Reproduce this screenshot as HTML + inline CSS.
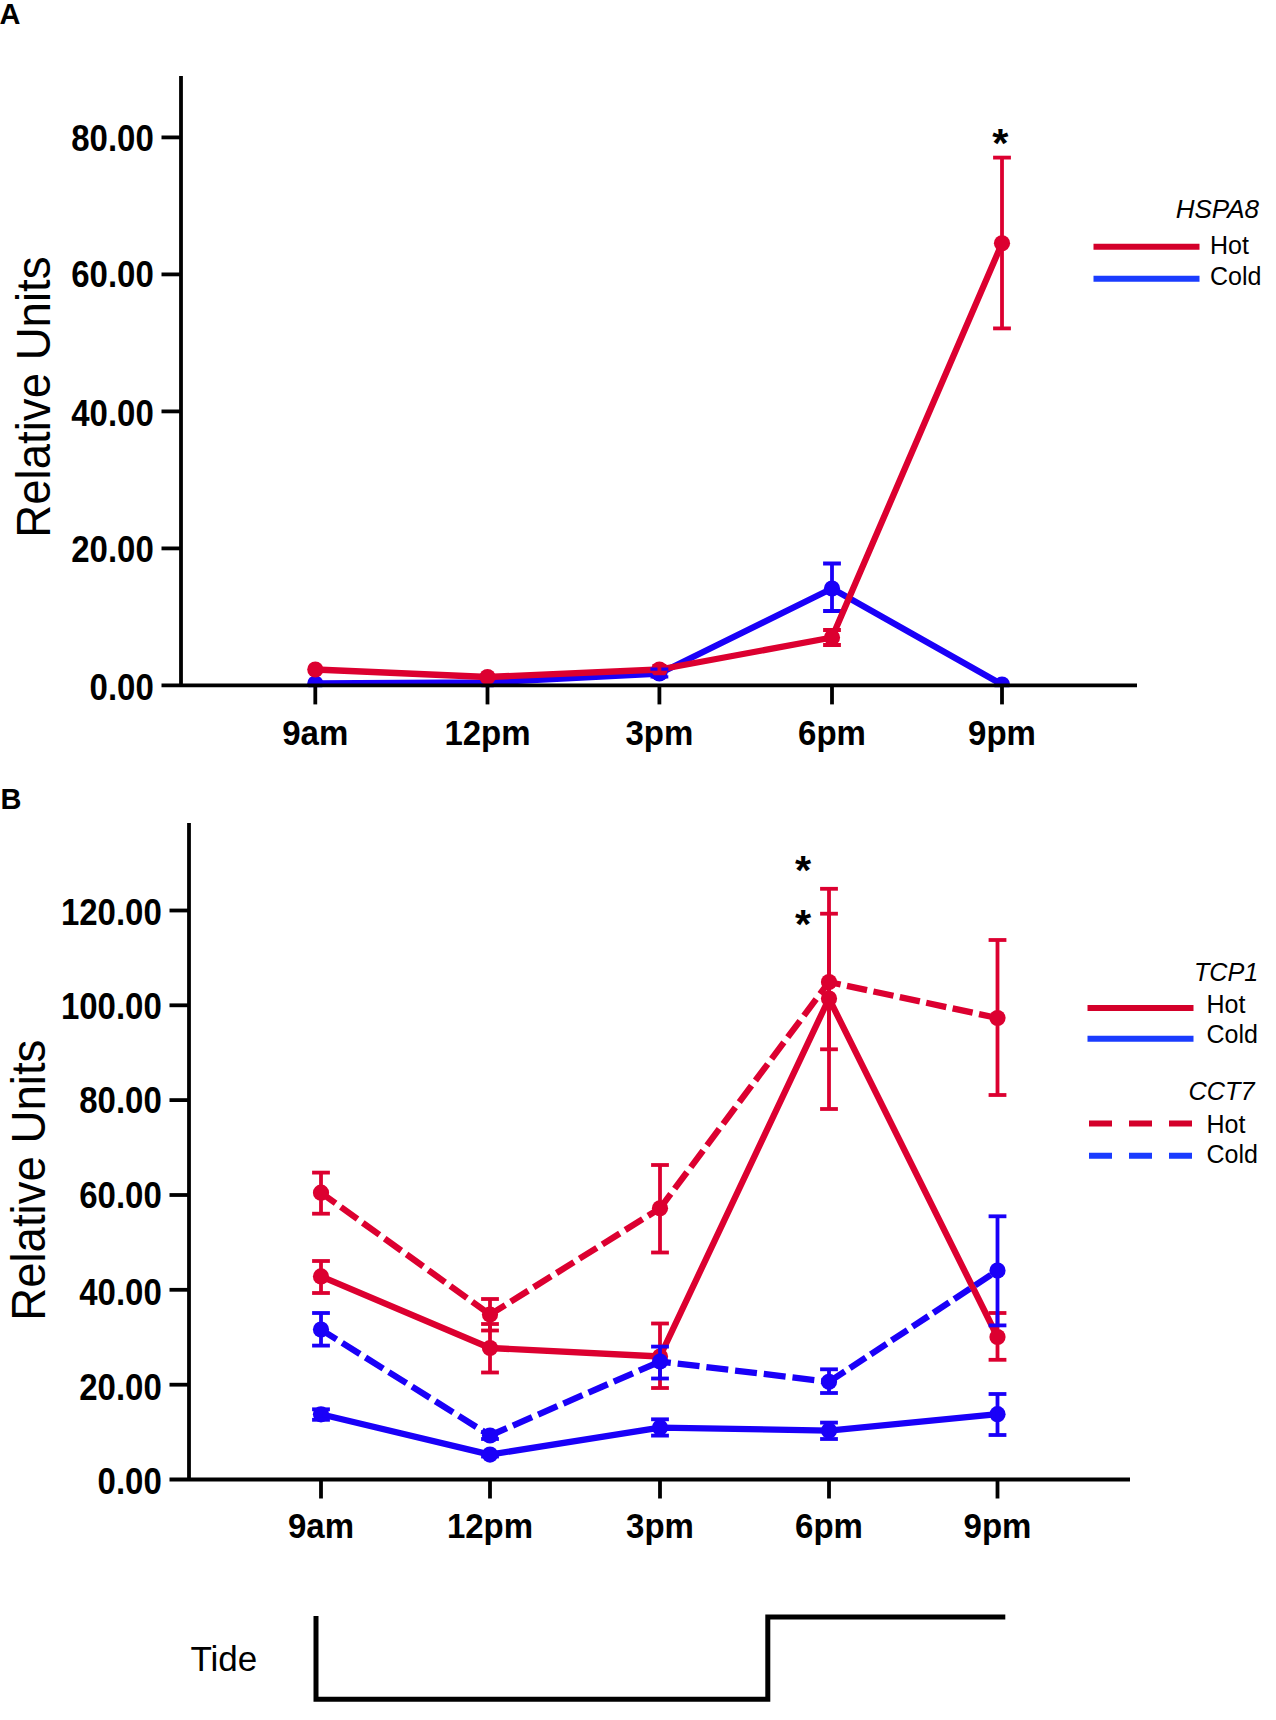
<!DOCTYPE html>
<html><head><meta charset="utf-8"><title>Figure</title>
<style>
html,body{margin:0;padding:0;background:#fff;}
body{width:1276px;height:1720px;overflow:hidden;font-family:"Liberation Sans",sans-serif;}
svg{display:block;font-family:"Liberation Sans",sans-serif;}
text{fill:#000;}
</style></head><body>
<svg width="1276" height="1720" viewBox="0 0 1276 1720">
<rect width="1276" height="1720" fill="#fff"/>
<text x="-0.5" y="23.8" font-size="29" font-weight="bold" font-style="normal" text-anchor="start" >A</text>
<clipPath id="clipA"><rect x="0" y="0" width="1276" height="687.2"/></clipPath><g clip-path="url(#clipA)">
<line x1="832" y1="563.5" x2="832" y2="611" stroke="#1a00f8" stroke-width="3.8" />
<line x1="823.1" y1="563.5" x2="840.9" y2="563.5" stroke="#1a00f8" stroke-width="3.8" />
<line x1="823.1" y1="611" x2="840.9" y2="611" stroke="#1a00f8" stroke-width="3.8" />
<line x1="832" y1="630" x2="832" y2="645" stroke="#dc0030" stroke-width="3.8" />
<line x1="823.1" y1="630" x2="840.9" y2="630" stroke="#dc0030" stroke-width="3.8" />
<line x1="823.1" y1="645" x2="840.9" y2="645" stroke="#dc0030" stroke-width="3.8" />
<line x1="1002" y1="157.6" x2="1002" y2="328.4" stroke="#dc0030" stroke-width="3.8" />
<line x1="993.1" y1="157.6" x2="1010.9" y2="157.6" stroke="#dc0030" stroke-width="3.8" />
<line x1="993.1" y1="328.4" x2="1010.9" y2="328.4" stroke="#dc0030" stroke-width="3.8" />
<line x1="659.4" y1="666" x2="659.4" y2="677" stroke="#dc0030" stroke-width="3.8" />
<line x1="652.4" y1="666" x2="666.4" y2="666" stroke="#dc0030" stroke-width="3.8" />
<line x1="652.4" y1="677" x2="666.4" y2="677" stroke="#dc0030" stroke-width="3.8" />
<path d="M315.3 683.5 L487.5 682.5 L659.4 673.5 L832 588.5 L1002 684.5" fill="none" stroke="#1a00f8" stroke-width="6.3" stroke-linejoin="round"/>
<circle cx="315.3" cy="683.5" r="8.1" fill="#1a00f8"/>
<circle cx="487.5" cy="682.5" r="8.1" fill="#1a00f8"/>
<circle cx="659.4" cy="673.5" r="8.1" fill="#1a00f8"/>
<circle cx="832" cy="588.5" r="8.1" fill="#1a00f8"/>
<circle cx="1002" cy="684.5" r="8.1" fill="#1a00f8"/>
<path d="M315.3 669.5 L487.5 677 L659.4 669.5 L832 637.5 L1002 243.3" fill="none" stroke="#dc0030" stroke-width="6.3" stroke-linejoin="round"/>
<circle cx="315.3" cy="669.5" r="8.1" fill="#dc0030"/>
<circle cx="487.5" cy="677" r="8.1" fill="#dc0030"/>
<circle cx="659.4" cy="669.5" r="8.1" fill="#dc0030"/>
<circle cx="832" cy="637.5" r="8.1" fill="#dc0030"/>
<circle cx="1002" cy="243.3" r="8.1" fill="#dc0030"/>
<line x1="650.5" y1="669.1" x2="668.3" y2="669.1" stroke="#1a00f8" stroke-width="3.2" />
<line x1="650.5" y1="676.8" x2="668.3" y2="676.8" stroke="#1a00f8" stroke-width="3.2" />
<line x1="659.4" y1="663" x2="659.4" y2="675" stroke="#dc0030" stroke-width="3.8" />
</g>
<line x1="181" y1="76" x2="181" y2="685.4" stroke="#000" stroke-width="3.8" />
<line x1="161.5" y1="685.4" x2="1137" y2="685.4" stroke="#000" stroke-width="3.8" />
<text transform="translate(153.8,699.8) scale(1,1.1)" font-size="33" font-weight="bold" font-style="normal" text-anchor="end" >0.00</text>
<line x1="161.5" y1="548.4" x2="181" y2="548.4" stroke="#000" stroke-width="3.8" />
<text transform="translate(153.8,562.4) scale(1,1.1)" font-size="33" font-weight="bold" font-style="normal" text-anchor="end" >20.00</text>
<line x1="161.5" y1="411.4" x2="181" y2="411.4" stroke="#000" stroke-width="3.8" />
<text transform="translate(153.8,425.7) scale(1,1.1)" font-size="33" font-weight="bold" font-style="normal" text-anchor="end" >40.00</text>
<line x1="161.5" y1="274.4" x2="181" y2="274.4" stroke="#000" stroke-width="3.8" />
<text transform="translate(153.8,287.4) scale(1,1.1)" font-size="33" font-weight="bold" font-style="normal" text-anchor="end" >60.00</text>
<line x1="161.5" y1="137.4" x2="181" y2="137.4" stroke="#000" stroke-width="3.8" />
<text transform="translate(153.8,151.4) scale(1,1.1)" font-size="33" font-weight="bold" font-style="normal" text-anchor="end" >80.00</text>
<line x1="315.3" y1="685.4" x2="315.3" y2="704.4" stroke="#000" stroke-width="3.8" />
<text transform="translate(315.3,745) scale(1,1.06)" font-size="33" font-weight="bold" font-style="normal" text-anchor="middle" >9am</text>
<line x1="487.5" y1="685.4" x2="487.5" y2="704.4" stroke="#000" stroke-width="3.8" />
<text transform="translate(487.5,745) scale(1,1.06)" font-size="33" font-weight="bold" font-style="normal" text-anchor="middle" >12pm</text>
<line x1="659.4" y1="685.4" x2="659.4" y2="704.4" stroke="#000" stroke-width="3.8" />
<text transform="translate(659.4,745) scale(1,1.06)" font-size="33" font-weight="bold" font-style="normal" text-anchor="middle" >3pm</text>
<line x1="832" y1="685.4" x2="832" y2="704.4" stroke="#000" stroke-width="3.8" />
<text transform="translate(832,745) scale(1,1.06)" font-size="33" font-weight="bold" font-style="normal" text-anchor="middle" >6pm</text>
<line x1="1002" y1="685.4" x2="1002" y2="704.4" stroke="#000" stroke-width="3.8" />
<text transform="translate(1002,745) scale(1,1.06)" font-size="33" font-weight="bold" font-style="normal" text-anchor="middle" >9pm</text>
<text transform="translate(49.6,397.1) rotate(-90) scale(1.013,1.05)" font-size="45" text-anchor="middle">Relative Units</text>
<text x="1000.4" y="156.7" font-size="41.5" font-weight="bold" font-style="normal" text-anchor="middle" >*</text>
<text x="1259" y="217.8" font-size="26" font-weight="normal" font-style="italic" text-anchor="end" >HSPA8</text>
<line x1="1093.5" y1="246.7" x2="1199.5" y2="246.7" stroke="#d4002a" stroke-width="5.9" />
<line x1="1093.5" y1="278.8" x2="1199.5" y2="278.8" stroke="#1a3cff" stroke-width="5.9" />
<text x="1210" y="254" font-size="25" font-weight="normal" font-style="normal" text-anchor="start" >Hot</text>
<text x="1210" y="285" font-size="25" font-weight="normal" font-style="normal" text-anchor="start" >Cold</text>
<text x="0.5" y="808.6" font-size="29" font-weight="bold" font-style="normal" text-anchor="start" >B</text>
<line x1="189" y1="823" x2="189" y2="1479.5" stroke="#000" stroke-width="3.8" />
<line x1="169.5" y1="1479.5" x2="1130" y2="1479.5" stroke="#000" stroke-width="3.8" />
<text transform="translate(161.8,1494.0) scale(1,1.1)" font-size="33" font-weight="bold" font-style="normal" text-anchor="end" >0.00</text>
<line x1="169.5" y1="1384.7" x2="189" y2="1384.7" stroke="#000" stroke-width="3.8" />
<text transform="translate(161.8,1399.7) scale(1,1.1)" font-size="33" font-weight="bold" font-style="normal" text-anchor="end" >20.00</text>
<line x1="169.5" y1="1289.8" x2="189" y2="1289.8" stroke="#000" stroke-width="3.8" />
<text transform="translate(161.8,1304.8) scale(1,1.1)" font-size="33" font-weight="bold" font-style="normal" text-anchor="end" >40.00</text>
<line x1="169.5" y1="1195.0" x2="189" y2="1195.0" stroke="#000" stroke-width="3.8" />
<text transform="translate(161.8,1208.0) scale(1,1.1)" font-size="33" font-weight="bold" font-style="normal" text-anchor="end" >60.00</text>
<line x1="169.5" y1="1100.1" x2="189" y2="1100.1" stroke="#000" stroke-width="3.8" />
<text transform="translate(161.8,1113.3) scale(1,1.1)" font-size="33" font-weight="bold" font-style="normal" text-anchor="end" >80.00</text>
<line x1="169.5" y1="1005.3" x2="189" y2="1005.3" stroke="#000" stroke-width="3.8" />
<text transform="translate(161.8,1019.0999999999999) scale(1,1.1)" font-size="33" font-weight="bold" font-style="normal" text-anchor="end" >100.00</text>
<line x1="169.5" y1="910.5" x2="189" y2="910.5" stroke="#000" stroke-width="3.8" />
<text transform="translate(161.8,925.0) scale(1,1.1)" font-size="33" font-weight="bold" font-style="normal" text-anchor="end" >120.00</text>
<line x1="321" y1="1479.5" x2="321" y2="1498.5" stroke="#000" stroke-width="3.8" />
<text transform="translate(321,1538) scale(1,1.06)" font-size="33" font-weight="bold" font-style="normal" text-anchor="middle" >9am</text>
<line x1="490" y1="1479.5" x2="490" y2="1498.5" stroke="#000" stroke-width="3.8" />
<text transform="translate(490,1538) scale(1,1.06)" font-size="33" font-weight="bold" font-style="normal" text-anchor="middle" >12pm</text>
<line x1="660" y1="1479.5" x2="660" y2="1498.5" stroke="#000" stroke-width="3.8" />
<text transform="translate(660,1538) scale(1,1.06)" font-size="33" font-weight="bold" font-style="normal" text-anchor="middle" >3pm</text>
<line x1="829" y1="1479.5" x2="829" y2="1498.5" stroke="#000" stroke-width="3.8" />
<text transform="translate(829,1538) scale(1,1.06)" font-size="33" font-weight="bold" font-style="normal" text-anchor="middle" >6pm</text>
<line x1="997.5" y1="1479.5" x2="997.5" y2="1498.5" stroke="#000" stroke-width="3.8" />
<text transform="translate(997.5,1538) scale(1,1.06)" font-size="33" font-weight="bold" font-style="normal" text-anchor="middle" >9pm</text>
<text transform="translate(45.2,1180.2) rotate(-90) scale(1.013,1.05)" font-size="45" text-anchor="middle">Relative Units</text>
<line x1="321" y1="1261" x2="321" y2="1293" stroke="#dc0030" stroke-width="3.8" />
<line x1="312.1" y1="1261" x2="329.9" y2="1261" stroke="#dc0030" stroke-width="3.8" />
<line x1="312.1" y1="1293" x2="329.9" y2="1293" stroke="#dc0030" stroke-width="3.8" />
<line x1="490" y1="1324" x2="490" y2="1372.5" stroke="#dc0030" stroke-width="3.8" />
<line x1="481.1" y1="1324" x2="498.9" y2="1324" stroke="#dc0030" stroke-width="3.8" />
<line x1="481.1" y1="1372.5" x2="498.9" y2="1372.5" stroke="#dc0030" stroke-width="3.8" />
<line x1="660" y1="1323.5" x2="660" y2="1388" stroke="#dc0030" stroke-width="3.8" />
<line x1="651.1" y1="1323.5" x2="668.9" y2="1323.5" stroke="#dc0030" stroke-width="3.8" />
<line x1="651.1" y1="1388" x2="668.9" y2="1388" stroke="#dc0030" stroke-width="3.8" />
<line x1="829" y1="888.8" x2="829" y2="1109" stroke="#dc0030" stroke-width="3.8" />
<line x1="820.1" y1="888.8" x2="837.9" y2="888.8" stroke="#dc0030" stroke-width="3.8" />
<line x1="820.1" y1="1109" x2="837.9" y2="1109" stroke="#dc0030" stroke-width="3.8" />
<line x1="997.5" y1="1313" x2="997.5" y2="1359.8" stroke="#dc0030" stroke-width="3.8" />
<line x1="988.6" y1="1313" x2="1006.4" y2="1313" stroke="#dc0030" stroke-width="3.8" />
<line x1="988.6" y1="1359.8" x2="1006.4" y2="1359.8" stroke="#dc0030" stroke-width="3.8" />
<line x1="321" y1="1172.6" x2="321" y2="1213.7" stroke="#dc0030" stroke-width="3.8" />
<line x1="312.1" y1="1172.6" x2="329.9" y2="1172.6" stroke="#dc0030" stroke-width="3.8" />
<line x1="312.1" y1="1213.7" x2="329.9" y2="1213.7" stroke="#dc0030" stroke-width="3.8" />
<line x1="490" y1="1299" x2="490" y2="1330.5" stroke="#dc0030" stroke-width="3.8" />
<line x1="481.1" y1="1299" x2="498.9" y2="1299" stroke="#dc0030" stroke-width="3.8" />
<line x1="481.1" y1="1330.5" x2="498.9" y2="1330.5" stroke="#dc0030" stroke-width="3.8" />
<line x1="660" y1="1165" x2="660" y2="1252.5" stroke="#dc0030" stroke-width="3.8" />
<line x1="651.1" y1="1165" x2="668.9" y2="1165" stroke="#dc0030" stroke-width="3.8" />
<line x1="651.1" y1="1252.5" x2="668.9" y2="1252.5" stroke="#dc0030" stroke-width="3.8" />
<line x1="829" y1="913.7" x2="829" y2="1049.3" stroke="#dc0030" stroke-width="3.8" />
<line x1="820.1" y1="913.7" x2="837.9" y2="913.7" stroke="#dc0030" stroke-width="3.8" />
<line x1="820.1" y1="1049.3" x2="837.9" y2="1049.3" stroke="#dc0030" stroke-width="3.8" />
<line x1="997.5" y1="940" x2="997.5" y2="1095" stroke="#dc0030" stroke-width="3.8" />
<line x1="988.6" y1="940" x2="1006.4" y2="940" stroke="#dc0030" stroke-width="3.8" />
<line x1="988.6" y1="1095" x2="1006.4" y2="1095" stroke="#dc0030" stroke-width="3.8" />
<path d="M321 1276.4 L490 1348 L660 1356.5 L829 998.5 L997.5 1337" fill="none" stroke="#dc0030" stroke-width="6.3" stroke-linejoin="round"/>
<circle cx="321" cy="1276.4" r="8.1" fill="#dc0030"/>
<circle cx="490" cy="1348" r="8.1" fill="#dc0030"/>
<circle cx="660" cy="1356.5" r="8.1" fill="#dc0030"/>
<circle cx="829" cy="998.5" r="8.1" fill="#dc0030"/>
<circle cx="997.5" cy="1337" r="8.1" fill="#dc0030"/>
<path d="M321 1192.7 L490 1314.6" fill="none" stroke="#dc0030" stroke-width="6.3" stroke-dasharray="20.5 6.5" stroke-dashoffset="2.5"/>
<path d="M490 1314.6 L660 1208.3" fill="none" stroke="#dc0030" stroke-width="6.3" stroke-dasharray="20.5 6.5" stroke-dashoffset="2.5"/>
<path d="M660 1208.3 L829 982" fill="none" stroke="#dc0030" stroke-width="6.3" stroke-dasharray="20.5 6.5" stroke-dashoffset="2.5"/>
<path d="M829 982 L997.5 1018" fill="none" stroke="#dc0030" stroke-width="6.3" stroke-dasharray="20.5 6.5" stroke-dashoffset="8.6"/>
<circle cx="321" cy="1192.7" r="8.1" fill="#dc0030"/>
<circle cx="490" cy="1314.6" r="8.1" fill="#dc0030"/>
<circle cx="660" cy="1208.3" r="8.1" fill="#dc0030"/>
<circle cx="829" cy="982" r="8.1" fill="#dc0030"/>
<circle cx="997.5" cy="1018" r="8.1" fill="#dc0030"/>
<path d="M321 1414.3 L490 1454.6 L660 1427.6 L829 1430.6 L997.5 1414.2" fill="none" stroke="#1a00f8" stroke-width="6.3" stroke-linejoin="round"/>
<circle cx="321" cy="1414.3" r="8.1" fill="#1a00f8"/>
<circle cx="490" cy="1454.6" r="8.1" fill="#1a00f8"/>
<circle cx="660" cy="1427.6" r="8.1" fill="#1a00f8"/>
<circle cx="829" cy="1430.6" r="8.1" fill="#1a00f8"/>
<circle cx="997.5" cy="1414.2" r="8.1" fill="#1a00f8"/>
<path d="M321 1329.6 L490 1435.5" fill="none" stroke="#1a00f8" stroke-width="6.3" stroke-dasharray="20.9 6.6" stroke-dashoffset="2.5"/>
<path d="M490 1435.5 L660 1361.5" fill="none" stroke="#1a00f8" stroke-width="6.3" stroke-dasharray="20.9 6.6" stroke-dashoffset="2.5"/>
<path d="M660 1361.5 L829 1381.8" fill="none" stroke="#1a00f8" stroke-width="6.3" stroke-dasharray="22 6.9" stroke-dashoffset="11.1"/>
<path d="M829 1381.8 L997.5 1270.6" fill="none" stroke="#1a00f8" stroke-width="6.3" stroke-dasharray="19 6" stroke-dashoffset="0"/>
<circle cx="321" cy="1329.6" r="8.1" fill="#1a00f8"/>
<circle cx="490" cy="1435.5" r="8.1" fill="#1a00f8"/>
<circle cx="660" cy="1361.5" r="8.1" fill="#1a00f8"/>
<circle cx="829" cy="1381.8" r="8.1" fill="#1a00f8"/>
<circle cx="997.5" cy="1270.6" r="8.1" fill="#1a00f8"/>
<line x1="321" y1="1409.3" x2="321" y2="1419.8" stroke="#1a00f8" stroke-width="3.8" />
<line x1="312.1" y1="1409.3" x2="329.9" y2="1409.3" stroke="#1a00f8" stroke-width="3.8" />
<line x1="312.1" y1="1419.8" x2="329.9" y2="1419.8" stroke="#1a00f8" stroke-width="3.8" />
<line x1="490" y1="1452.5" x2="490" y2="1456.5" stroke="#1a00f8" stroke-width="3.8" />
<line x1="481.1" y1="1452.5" x2="498.9" y2="1452.5" stroke="#1a00f8" stroke-width="3.8" />
<line x1="481.1" y1="1456.5" x2="498.9" y2="1456.5" stroke="#1a00f8" stroke-width="3.8" />
<line x1="660" y1="1419.3" x2="660" y2="1435.6" stroke="#1a00f8" stroke-width="3.8" />
<line x1="651.1" y1="1419.3" x2="668.9" y2="1419.3" stroke="#1a00f8" stroke-width="3.8" />
<line x1="651.1" y1="1435.6" x2="668.9" y2="1435.6" stroke="#1a00f8" stroke-width="3.8" />
<line x1="829" y1="1422.6" x2="829" y2="1439" stroke="#1a00f8" stroke-width="3.8" />
<line x1="820.1" y1="1422.6" x2="837.9" y2="1422.6" stroke="#1a00f8" stroke-width="3.8" />
<line x1="820.1" y1="1439" x2="837.9" y2="1439" stroke="#1a00f8" stroke-width="3.8" />
<line x1="997.5" y1="1394" x2="997.5" y2="1435" stroke="#1a00f8" stroke-width="3.8" />
<line x1="988.6" y1="1394" x2="1006.4" y2="1394" stroke="#1a00f8" stroke-width="3.8" />
<line x1="988.6" y1="1435" x2="1006.4" y2="1435" stroke="#1a00f8" stroke-width="3.8" />
<line x1="321" y1="1313" x2="321" y2="1345.6" stroke="#1a00f8" stroke-width="3.8" />
<line x1="312.1" y1="1313" x2="329.9" y2="1313" stroke="#1a00f8" stroke-width="3.8" />
<line x1="312.1" y1="1345.6" x2="329.9" y2="1345.6" stroke="#1a00f8" stroke-width="3.8" />
<line x1="490" y1="1432" x2="490" y2="1439" stroke="#1a00f8" stroke-width="3.8" />
<line x1="481.1" y1="1432" x2="498.9" y2="1432" stroke="#1a00f8" stroke-width="3.8" />
<line x1="481.1" y1="1439" x2="498.9" y2="1439" stroke="#1a00f8" stroke-width="3.8" />
<line x1="660" y1="1346.6" x2="660" y2="1378.5" stroke="#1a00f8" stroke-width="3.8" />
<line x1="651.1" y1="1346.6" x2="668.9" y2="1346.6" stroke="#1a00f8" stroke-width="3.8" />
<line x1="651.1" y1="1378.5" x2="668.9" y2="1378.5" stroke="#1a00f8" stroke-width="3.8" />
<line x1="829" y1="1369.3" x2="829" y2="1393" stroke="#1a00f8" stroke-width="3.8" />
<line x1="820.1" y1="1369.3" x2="837.9" y2="1369.3" stroke="#1a00f8" stroke-width="3.8" />
<line x1="820.1" y1="1393" x2="837.9" y2="1393" stroke="#1a00f8" stroke-width="3.8" />
<line x1="997.5" y1="1216.3" x2="997.5" y2="1325.4" stroke="#1a00f8" stroke-width="3.8" />
<line x1="988.6" y1="1216.3" x2="1006.4" y2="1216.3" stroke="#1a00f8" stroke-width="3.8" />
<line x1="988.6" y1="1325.4" x2="1006.4" y2="1325.4" stroke="#1a00f8" stroke-width="3.8" />
<text x="803.2" y="883.7" font-size="41.5" font-weight="bold" font-style="normal" text-anchor="middle" >*</text>
<text x="803.2" y="937.9" font-size="41.5" font-weight="bold" font-style="normal" text-anchor="middle" >*</text>
<text x="1258.3" y="981.2" font-size="25.2" font-weight="normal" font-style="italic" text-anchor="end" >TCP1</text>
<line x1="1087.5" y1="1008" x2="1193.5" y2="1008" stroke="#d4002a" stroke-width="5.9" />
<line x1="1087.5" y1="1038.7" x2="1193.5" y2="1038.7" stroke="#1a3cff" stroke-width="5.9" />
<text x="1206.5" y="1013" font-size="25" font-weight="normal" font-style="normal" text-anchor="start" >Hot</text>
<text x="1206.5" y="1043" font-size="25" font-weight="normal" font-style="normal" text-anchor="start" >Cold</text>
<text x="1254.6" y="1100.2" font-size="25.3" font-weight="normal" font-style="italic" text-anchor="end" >CCT7</text>
<line x1="1089" y1="1123.5" x2="1192" y2="1123.5" stroke="#d4002a" stroke-width="5.9" stroke-dasharray="23 17"/>
<line x1="1089" y1="1155.8" x2="1192" y2="1155.8" stroke="#1a3cff" stroke-width="5.9" stroke-dasharray="23 17"/>
<text x="1206.5" y="1132.5" font-size="25" font-weight="normal" font-style="normal" text-anchor="start" >Hot</text>
<text x="1206.5" y="1163" font-size="25" font-weight="normal" font-style="normal" text-anchor="start" >Cold</text>
<path d="M316 1616 V1699.2 H767.8 V1617 H1005.3" fill="none" stroke="#000" stroke-width="5" stroke-linejoin="miter"/>
<text x="190.5" y="1670.8" font-size="35" font-weight="normal" font-style="normal" text-anchor="start" >Tide</text>
</svg>
</body></html>
